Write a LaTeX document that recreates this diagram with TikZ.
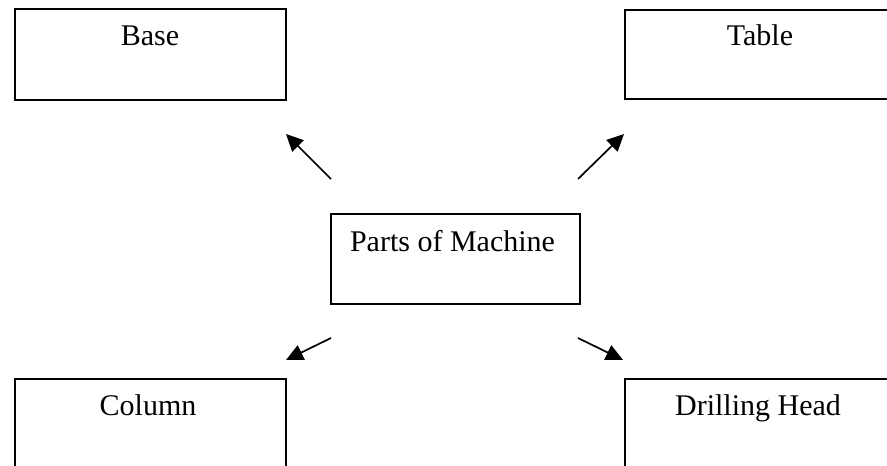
\documentclass[tikz,border=0pt]{standalone}
\usepackage{fontspec}
\setmainfont{Liberation Serif}
\usetikzlibrary{arrows.meta}
\begin{document}
\begin{tikzpicture}[x=1pt,y=-1pt,
  partbox/.style={draw=black, line width=1.5pt, fill=white, inner sep=0pt,
    anchor=north west, minimum width=271pt, minimum height=91pt},
  hubbox/.style={draw=black, line width=1.5pt, inner sep=0pt,
    anchor=north west, minimum width=249pt, minimum height=90pt},
  caption/.style={anchor=base, inner sep=0pt, font=\fontsize{30}{36}\selectfont},
  pointer/.style={line width=1.7pt, -{Triangle[length=17pt,width=16pt]}}]
  % canvas
  \clip (0,0) rectangle (887,466);
  \fill[white] (0,0) rectangle (887,466);

  % part boxes
  \node[partbox] (base) at (14,8) {};
  \node[partbox, minimum height=89pt] (table) at (624,9) {};
  \node[partbox, minimum height=100pt] (column) at (14,378) {};
  \node[partbox, minimum height=100pt] (head) at (624,378) {};
  \node[hubbox] (hub) at (330,213) {};

  % captions
  \node[caption] (baseT) at (150,45) {Base};
  \node[caption] (tableT) at (760,45) {Table};
  \node[caption] (hubT) at (452.5,251) {Parts of Machine};
  \node[caption] (columnT) at (148,415) {Column};
  \node[caption] (headT) at (758,415) {Drilling Head};

  % arrow ends
  \coordinate (ulS) at (331,179);  \coordinate (ulE) at (286,134);
  \coordinate (urS) at (578,179);  \coordinate (urE) at (624,134);
  \coordinate (llS) at (331,338);  \coordinate (llE) at (286,360);
  \coordinate (lrS) at (578,338);  \coordinate (lrE) at (623,360);

  \draw[pointer] (ulS) -- (ulE);
  \draw[pointer] (urS) -- (urE);
  \draw[pointer] (llS) -- (llE);
  \draw[pointer] (lrS) -- (lrE);
\end{tikzpicture}
\end{document}
